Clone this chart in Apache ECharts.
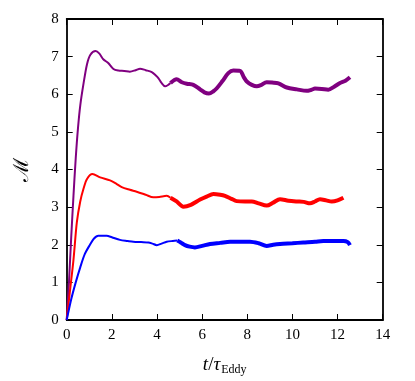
<!DOCTYPE html>
<html>
<head>
<meta charset="utf-8">
<script src="https://cdn.jsdelivr.net/npm/echarts@6/dist/echarts.min.js"></script>
<style>
html, body { margin: 0; padding: 0; background: #fff; }
#chart { width: 415px; height: 381px; }
</style>
</head>
<body>
<div id="chart"></div>
<script>
// axis ticks
const xTicks = [0, 2, 4, 6, 8, 10, 12, 14]
const yTicks = [0, 1, 2, 3, 4, 5, 6, 7, 8]

// purple run: thin early part, thick later part
const purpleThinT = [0, 0.1, 0.2, 0.3, 0.4, 0.5, 0.6, 0.75, 0.9, 1.05, 1.28, 1.45, 1.62, 1.84, 2.07, 2.29, 2.55, 2.8, 3.05, 3.25, 3.5, 3.77, 3.95, 4.06, 4.2, 4.36, 4.5, 4.6]
const purpleThinM = [0, 1.0, 2.2, 3.3, 4.3, 5.1, 5.7, 6.3, 6.8, 7.05, 7.15, 7.08, 6.93, 6.83, 6.67, 6.63, 6.62, 6.60, 6.64, 6.68, 6.64, 6.59, 6.5, 6.43, 6.3, 6.21, 6.25, 6.30]
const purpleThickT = [4.6, 4.87, 5.1, 5.32, 5.61, 5.91, 6.1, 6.3, 6.5, 6.65, 6.9, 7.16, 7.38, 7.68, 7.85, 7.98, 8.2, 8.42, 8.6, 8.86, 9.1, 9.38, 9.75, 10.2, 10.63, 10.85, 11.0, 11.3, 11.59, 11.85, 12.11, 12.35, 12.55]
const purpleThickM = [6.30, 6.40, 6.32, 6.28, 6.25, 6.13, 6.05, 6.02, 6.08, 6.16, 6.35, 6.56, 6.63, 6.62, 6.45, 6.34, 6.25, 6.21, 6.24, 6.32, 6.31, 6.29, 6.18, 6.13, 6.09, 6.12, 6.15, 6.14, 6.12, 6.20, 6.30, 6.36, 6.45]

// red run
const redThinT = [0, 0.15, 0.3, 0.45, 0.6, 0.75, 0.9, 1.14, 1.48, 1.92, 2.2, 2.44, 2.8, 3.1, 3.5, 3.84, 4.1, 4.43, 4.6]
const redThinM = [0, 0.8, 1.6, 2.6, 3.15, 3.5, 3.75, 3.88, 3.79, 3.71, 3.62, 3.53, 3.46, 3.41, 3.33, 3.26, 3.27, 3.30, 3.25]
const redThickT = [4.6, 4.87, 5.17, 5.5, 5.91, 6.2, 6.5, 6.8, 7.01, 7.3, 7.53, 7.9, 8.2, 8.5, 8.86, 9.15, 9.45, 9.82, 10.19, 10.5, 10.78, 11.0, 11.22, 11.5, 11.74, 12.0, 12.26]
const redThickM = [3.25, 3.15, 3.01, 3.06, 3.20, 3.28, 3.35, 3.33, 3.30, 3.22, 3.16, 3.15, 3.15, 3.10, 3.04, 3.12, 3.21, 3.17, 3.15, 3.14, 3.10, 3.15, 3.21, 3.18, 3.15, 3.18, 3.25]

// blue run
const blueThinT = [0, 0.2, 0.4, 0.6, 0.8, 1.03, 1.2, 1.4, 1.77, 2.0, 2.36, 2.7, 2.95, 3.3, 3.62, 3.8, 3.99, 4.2, 4.43, 4.7, 4.9]
const blueThinM = [0, 0.55, 1.0, 1.4, 1.75, 2.0, 2.16, 2.24, 2.24, 2.2, 2.13, 2.1, 2.08, 2.07, 2.06, 2.03, 1.99, 2.03, 2.08, 2.1, 2.11]
const blueThickT = [4.9, 5.05, 5.24, 5.45, 5.68, 6.0, 6.35, 6.8, 7.24, 7.7, 8.12, 8.5, 8.86, 9.15, 9.45, 10.0, 10.48, 11.0, 11.37, 11.8, 12.26, 12.45, 12.55]
const blueThickM = [2.11, 2.06, 1.99, 1.95, 1.93, 1.97, 2.02, 2.05, 2.08, 2.08, 2.08, 2.04, 1.97, 2.0, 2.02, 2.04, 2.06, 2.08, 2.10, 2.10, 2.10, 2.07, 1.99]

const zip = (t, m) => t.map((v, i) => [v, m[i]])
const serif = 'Liberation Serif'

const line = (name, t, m, color, width) => ({
	name: name,
	type: 'line',
	data: zip(t, m),
	showSymbol: false,
	smooth: 0.3,
	lineStyle: { color: color, width: width },
	itemStyle: { color: color },
	z: 3
})

const axisCommon = (ticks) => ({
	type: 'value',
	min: ticks[0],
	max: ticks[ticks.length - 1],
	interval: ticks[1] - ticks[0],
	splitLine: { show: false },
	axisLine: { show: true, onZero: false, lineStyle: { color: '#000', width: 1.8 } },
	axisTick: { show: true, inside: true, length: 6, lineStyle: { color: '#000', width: 1 } },
	axisLabel: { color: '#000', fontFamily: serif, fontSize: 15, margin: 8 }
})

const chart = echarts.init(document.getElementById('chart'))
chart.setOption({
	animation: false,
	backgroundColor: '#fff',
	grid: { left: 66.7, right: 32.3, top: 19, bottom: 61 },
	xAxis: [
		Object.assign(axisCommon(xTicks), {
			position: 'bottom',
			name: '{i|t}{n|/}{i|τ}{s|Eddy}',
			nameLocation: 'middle',
			nameGap: 34,
			nameTextStyle: {
				rich: {
					i: { fontFamily: serif, fontStyle: 'italic', fontSize: 19, color: '#000' },
					n: { fontFamily: serif, fontSize: 19, color: '#000' },
					s: { fontFamily: serif, fontSize: 12, color: '#000', padding: [10, 0, 0, 1] }
				}
			}
		}),
		Object.assign(axisCommon(xTicks), {
			position: 'top',
			axisLabel: { show: false }
		})
	],
	yAxis: [
		Object.assign(axisCommon(yTicks), {
			position: 'left',
			name: 'ℳ',
			nameLocation: 'middle',
			nameGap: 34,
			nameRotate: 90,
			nameTextStyle: { fontFamily: 'DejaVu Serif', fontSize: 21, color: '#000' }
		}),
		Object.assign(axisCommon(yTicks), {
			position: 'right',
			axisLabel: { show: false }
		})
	],
	series: [
		line('purple', purpleThinT, purpleThinM, '#800080', 2),
		line('purple', purpleThickT, purpleThickM, '#800080', 4),
		line('red', redThinT, redThinM, '#ff0000', 2),
		line('red', redThickT, redThickM, '#ff0000', 4),
		line('blue', blueThinT, blueThinM, '#0000ff', 2),
		line('blue', blueThickT, blueThickM, '#0000ff', 4)
	]
})
</script>
</body>
</html>
